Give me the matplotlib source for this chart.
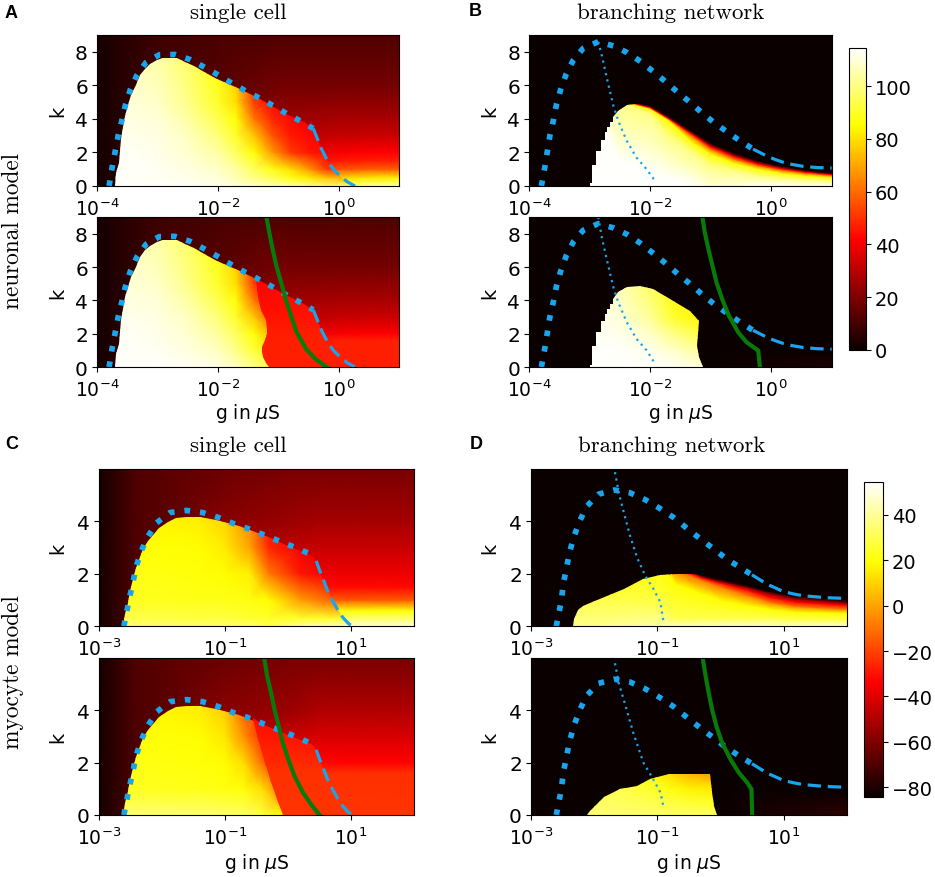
import matplotlib
matplotlib.use("Agg")
import matplotlib.pyplot as plt
import numpy as np
from matplotlib.colors import Normalize
from matplotlib.cm import ScalarMappable
from matplotlib.patches import Polygon

W, H = 935, 878
BLUE = "#18a5ee"
GREEN = "#087a08"

# ---- neuronal model, single cell (A) ----
a_out_lg = [-4, -3.6, -3, -2, -1, 0, 0.5, 1]
a_out_k = [0, 0.2, 0.5, 1, 1.5, 2, 3, 4, 6, 9]
a_out = [[2, 5, 9, 20, 60, 100, 104, 105],
         [2, 5, 9, 20, 60, 90, 94, 95],
         [2, 5, 9, 20, 55, 78, 81, 82],
         [2, 5, 9, 20, 45, 56, 58, 58],
         [2, 5, 9, 18, 38, 46, 47, 47],
         [2, 5, 9, 16, 34, 41, 42, 42],
         [2, 5, 9, 15, 30, 32, 33, 33],
         [2, 5, 9, 14, 25, 27, 27, 27],
         [2, 5, 9, 13, 18, 18, 18, 18],
         [2, 5, 9, 11, 12, 12, 12, 12]]
a_dash = [(-0.42, 3.43), (-0.36, 2.9), (-0.31, 2.4), (-0.24, 1.9), (-0.17, 1.41), (-0.08, 0.97), (0.02, 0.62),
          (0.14, 0.26), (0.27, 0)]
a_edge = [(-3.7, 0), (-3.68, 0.8), (-3.64, 1.4), (-3.62, 2.1), (-3.6, 2.8), (-3.57, 3.5), (-3.54, 4.2), (-3.49, 4.8),
          (-3.44, 5.4), (-3.36, 6), (-3.28, 6.6), (-3.2, 7), (-3.12, 7.26), (-3, 7.5), (-2.9, 7.62), (-2.78, 7.65),
          (-2.68, 7.6), (-2.55, 7.4), (-2.4, 7.16), (-2.2, 6.75), (-2.02, 6.37), (-1.63, 5.77), (-1.3, 5.18),
          (-0.91, 4.38), (-0.58, 3.79)]
a_in_lg = [-3.8, -3, -2.5, -2, -1.7, -1.4, -1.1, -0.8, -0.5, -0.2, 0.3]
a_in_k = [0, 0.5, 1, 2, 3, 4, 5, 8]
a_in = [[114, 114, 113, 112, 110, 108, 105, 103, 100, 98, 96],
        [114, 113, 112, 110, 106, 100, 95, 88, 82, 75, 70],
        [114, 113, 111, 108, 104, 96, 88, 80, 68, 52, 46],
        [114, 112, 109, 104, 96, 86, 68, 52, 46, 43, 42],
        [113, 111, 107, 99, 90, 76, 56, 46, 43, 42, 40],
        [112, 110, 104, 94, 86, 62, 48, 43, 41, 38, 36],
        [111, 108, 101, 90, 80, 52, 44, 40, 38, 36, 34],
        [108, 104, 96, 86, 75, 48, 42, 38, 36, 34, 32]]
a2_out_lg = [-4, -3.6, -3, -2, -1, 0, 0.5, 1]
a2_out_k = [0, 1.6, 2, 3, 4, 6, 9]
a2_out = [[2, 5, 9, 20, 47, 47, 47, 47],
          [2, 5, 9, 18, 40, 47, 47, 47],
          [2, 5, 9, 16, 34, 41, 42, 42],
          [2, 5, 9, 15, 30, 32, 33, 33],
          [2, 5, 9, 14, 25, 27, 27, 27],
          [2, 5, 9, 13, 18, 18, 18, 18],
          [2, 5, 9, 11, 12, 12, 12, 12]]
a2_in_lg = [-3.8, -3, -2.5, -2, -1.7, -1.4, -1.1]
a2_in_k = [0, 1, 2, 3, 4, 5, 8]
a2_in = [[114, 114, 113, 111, 107, 100, 94],
         [114, 113, 111, 107, 101, 92, 85],
         [114, 112, 109, 103, 96, 86, 72],
         [113, 111, 107, 99, 90, 76, 56],
         [112, 110, 104, 94, 86, 62, 48],
         [111, 108, 101, 90, 80, 52, 44],
         [108, 104, 96, 86, 75, 48, 42]]
a2_bound = [(-1.16, 0), (-1.2, 0.25), (-1.25, 0.6), (-1.27, 0.9), (-1.26, 1.2), (-1.22, 1.6), (-1.19, 2), (-1.18, 2.3),
            (-1.2, 2.8), (-1.28, 3.4), (-1.33, 4.2), (-1.36, 5.2), (-1.3, 5.18), (-0.91, 4.38), (-0.58, 3.79)]
a2_red_lg = [-1.5, 0.5]
a2_red_k = [0, 1.7, 3, 5.5]
a2_red_v = [[47, 47], [47, 47], [45, 45], [42, 42]]
a_dots = [(-3.8, 0), (-3.75, 1.11), (-3.7, 2.04), (-3.65, 3), (-3.59, 3.89), (-3.53, 4.82), (-3.45, 5.73),
          (-3.34, 6.6), (-3.19, 7.36), (-2.97, 7.82), (-2.71, 7.84), (-2.46, 7.54), (-2.23, 7.1), (-2, 6.63),
          (-1.77, 6.13), (-1.54, 5.67), (-1.31, 5.24), (-1.08, 4.78), (-0.85, 4.29), (-0.62, 3.85), (-0.42, 3.43)]
a_green = [(-1.19, 8.93), (-1.146, 8.04), (-1.09, 7.04), (-1.03, 6.05), (-0.95, 5.06), (-0.876, 4.07), (-0.788, 3.08),
           (-0.694, 2.08), (-0.54, 1.09), (-0.39, 0.5), (-0.2, 0)]

# ---- neuronal model, branching network (B) ----
b_dome = [(-3, 0), (-3, 0.15), (-2.97, 0.15), (-2.97, 1.27), (-2.9, 1.27), (-2.9, 2.1), (-2.82, 2.1), (-2.82, 2.76),
          (-2.75, 2.76), (-2.75, 3.2), (-2.71, 3.2), (-2.71, 3.5), (-2.66, 3.5), (-2.66, 3.8), (-2.61, 3.8), (-2.61, 4.1),
          (-2.53, 4.5), (-2.39, 4.82), (-2.17, 4.88), (-1.95, 4.68), (-1.68, 4.09), (-1.34, 3.3), (-0.96, 2.5),
          (-0.57, 1.9), (-0.13, 1.41), (0.42, 1.01), (1, 0.77), (1, 0)]
b_lg = [-3.1, -2.5, -2, -1.7, -1.3, -1, -0.6, -0.2, 0.2, 0.6, 1.05]
b_levels = [114.5, 114, 100, 85, 60, 42, 20, 0]
b_iso = [[-1, -1, -1, -1, -1, -1, -1, -1, -1, -1, -1],
         [5, 1.5, 1, 0.5, 0, -0.5, -0.3, 0, 0, 0, 0],
         [9, 5, 4.3, 3, 2, 1.2, 0.9, 0.6, 0.45, 0.35, 0.3],
         [9.2, 5.1, 4.6, 3.9, 2.6, 1.9, 1.35, 1, 0.75, 0.6, 0.5],
         [9.4, 5.12, 4.65, 4, 2.95, 2.2, 1.6, 1.2, 0.93, 0.75, 0.62],
         [9.6, 5.14, 4.7, 4.05, 3.08, 2.35, 1.75, 1.3, 1.02, 0.82, 0.68],
         [9.8, 5.16, 4.73, 4.1, 3.15, 2.45, 1.85, 1.4, 1.1, 0.88, 0.72],
         [10, 5.2, 4.78, 4.15, 3.3, 2.55, 1.95, 1.47, 1.15, 0.93, 0.77]]
b2_dome = b_dome[:21] + [(-1.34, 3.37), (-1.19, 2.78), (-1.23, 1.29), (-1.2, 0.6), (-1.13, 0)]
b2_lg = [-3.1, -2.5, -2, -1.6, -1.1]
b2_k = [0, 1, 2, 3, 5]
b2_v = [[114, 114, 114, 113, 110],
        [114, 114, 112, 108, 102],
        [114, 112, 108, 100, 92],
        [114, 110, 102, 90, 84],
        [112, 106, 96, 86, 80]]
b2_out_lg = [-4, -1.1, 1]
b2_out_k = [0, 0.5, 0.9, 9]
b2_out = [[0, 0, 3], [0, 0, 2.5], [0, 0, 0], [0, 0, 0]]
b_dots = [(-3.8, 0), (-3.74, 1.2), (-3.7, 2.1), (-3.66, 3), (-3.6, 3.95), (-3.55, 4.88), (-3.48, 5.77), (-3.39, 6.67),
          (-3.27, 7.52), (-3.11, 8.2), (-2.86, 8.6), (-2.61, 8.35), (-2.38, 7.95), (-2.16, 7.42), (-1.95, 6.82),
          (-1.75, 6.23), (-1.55, 5.6), (-1.34, 4.98), (-1.15, 4.38), (-0.95, 3.79), (-0.74, 3.25), (-0.52, 2.7), (-0.3, 2.2)]
b_dash = [(-0.3, 2.2), (-0.08, 1.8), (0.05, 1.6), (0.2, 1.41), (0.35, 1.28), (0.53, 1.17), (0.75, 1.1), (1, 1.07)]
b_thin = [(-2.86, 8.6), (-2.8, 7.76), (-2.72, 6.47), (-2.61, 4.78), (-2.53, 3.89), (-2.39, 2.7), (-2.23, 1.7),
          (-2.06, 1), (-1.94, 0.4)]
b2_thin = [(-2.86, 9), (-2.8, 7.76), (-2.72, 6.47), (-2.61, 4.78), (-2.53, 3.89), (-2.39, 2.7), (-2.23, 1.7),
           (-2.06, 1), (-1.93, 0.25)]
b_green = [(-1.135, 8.93), (-1.097, 8.04), (-1.036, 7.04), (-0.97, 6.05), (-0.904, 5.06), (-0.81, 4.07), (-0.7, 3.08),
           (-0.545, 2.08), (-0.408, 1.49), (-0.215, 0.99), (-0.187, 0)]

# ---- myocyte model, single cell (C) ----
c_out_lg = [-3, -2.7, -2.4, -2, -1, 0, 0.5, 1, 2]
c_out_k = [0, 0.3, 0.6, 1, 1.5, 2, 3, 4, 6]
c_out = [[-82, -76, -70, -68, -30, 30, 47, 48, 48],
         [-82, -76, -70, -68, -34, 20, 33, 34, 34],
         [-82, -76, -70, -68, -38, 5, 18, 20, 20],
         [-82, -76, -70, -68, -45, -20, -15, -15, -15],
         [-82, -76, -70, -68, -48, -30, -32, -32, -32],
         [-82, -76, -70, -68, -52, -37, -37, -37, -37],
         [-82, -76, -70, -68, -55, -47, -45, -45, -45],
         [-82, -76, -70, -68, -58, -54, -52, -52, -52],
         [-82, -76, -70, -68, -64, -61, -61, -61, -61]]
c_dash = [(0.45, 2.49), (0.5, 2.15), (0.56, 1.8), (0.63, 1.35), (0.71, 0.97), (0.79, 0.63), (0.87, 0.34), (0.95, 0.13), (1.02, 0)]
c_edge = [(-2.61, 0), (-2.58, 0.45), (-2.54, 0.9), (-2.5, 1.35), (-2.46, 1.8), (-2.41, 2.22), (-2.35, 2.62), (-2.29, 2.95),
          (-2.22, 3.25), (-2.13, 3.52), (-2.04, 3.76), (-1.9, 3.97), (-1.77, 4.14), (-1.6, 4.18), (-1.4, 4.18), (-1.14, 4.05),
          (-0.77, 3.82), (-0.34, 3.42), (0.08, 3), (0.4, 2.68)]
c_in_lg = [-2.6, -1.4, -1, -0.6, -0.3, 0.2, 0.7, 1.1]
c_in_k = [0, 0.3, 1, 2, 3, 4.2]
c_in = [[34, 34, 34, 34, 30, 40, 45, 47],
        [30, 28, 28, 26, 25, 25, 25, 25],
        [24, 22, 22, 21, 19, -1, -13, -15],
        [22, 20, 19, 16, -8, -29, -35, -37],
        [20, 19, 15, 0, -26, -35, -40, -42],
        [19, 15, 10, -6, -30, -40, -45, -48]]
c2_out_lg = [-3, -2.7, -2.4, -2, -1, 0, 0.5, 1, 2]
c2_out_k = [0, 1.6, 2, 3, 4, 6]
c2_out = [[-82, -76, -70, -68, -45, -23, -23, -23, -23],
          [-82, -76, -70, -68, -48, -24, -24, -24, -24],
          [-82, -76, -70, -68, -52, -33, -33, -33, -33],
          [-82, -76, -70, -68, -55, -45, -42, -42, -42],
          [-82, -76, -70, -68, -58, -54, -50, -50, -50],
          [-82, -76, -70, -68, -64, -61, -61, -61, -61]]
c2_in_lg = [-2.6, -1.4, -1, -0.7, -0.4, -0.05]
c2_in_k = [0, 1, 2, 3, 4.2]
c2_in = [[34, 34, 33, 32, 28, 18],
         [24, 22, 21, 20, 12, -14],
         [22, 20, 19, 12, -12, -24],
         [20, 19, 14, -4, -24, -26],
         [19, 15, 8, -14, -28, -30]]
c2_bound = [(-0.08, 0), (-0.16, 0.48), (-0.26, 1.25), (-0.37, 2), (-0.48, 2.9), (-0.53, 3.5), (-0.55, 3.72), (-0.34, 3.42),
            (0.08, 3), (0.4, 2.68)]
c2_red_lg = [-0.7, 1.2]
c2_red_k = [0, 1.7, 3, 4]
c2_red_v = [[-23, -23], [-24, -24], [-28, -32], [-32, -36]]
c_dots = [(-2.6, 0), (-2.52, 1), (-2.46, 1.63), (-2.41, 2.24), (-2.33, 2.84), (-2.22, 3.42), (-2.08, 3.94), (-1.87, 4.33),
          (-1.61, 4.41), (-1.35, 4.33), (-1.1, 4.14), (-0.86, 3.91), (-0.61, 3.7), (-0.37, 3.47), (-0.12, 3.23), (0.12, 3), (0.37, 2.73)]
c_green = [(-0.37, 5.92), (-0.328, 5.29), (-0.265, 4.66), (-0.212, 4.03), (-0.144, 3.39), (-0.08, 2.76), (0.005, 2.13),
           (0.105, 1.49), (0.238, 0.86), (0.386, 0.35), (0.503, 0)]

# ---- myocyte model, branching network (D) ----
d_dome = [(-2.34, 0), (-2.32, 0.28), (-2.25, 0.62), (-2.17, 0.78), (-2.06, 0.89), (-1.8, 1.16), (-1.53, 1.42), (-1.22, 1.8), (-0.95, 1.96),
          (-0.69, 2.01), (-0.48, 1.99), (-0.21, 1.92), (0.05, 1.77), (0.37, 1.57), (0.69, 1.35), (1.11, 1.16), (1.64, 1.04), (2, 1.01), (2, 0)]
d_lg = [-2.4, -1.5, -1, -0.7, -0.3, 0, 0.4, 0.8, 1.2, 2]
d_levels = [54, 45, 30, 19, -8, -33, -60, -84]
d_iso = [[-2, -2, -2, -2, -2, -2, -2, -2, -2, -2],
         [-1, -0.5, -0.2, 0, 0.03, 0.05, 0.05, 0.05, 0.05, 0.05],
         [1, 0.9, 0.8, 0.3, 0.3, 0.3, 0.3, 0.3, 0.25, 0.25],
         [2, 2.1, 2.4, 1.6, 1.25, 1, 0.8, 0.65, 0.55, 0.5],
         [3, 3.1, 3.2, 2.1, 1.75, 1.5, 1.2, 0.9, 0.75, 0.65],
         [4, 4.1, 4.2, 2.3, 1.85, 1.65, 1.4, 1.1, 0.92, 0.8],
         [5, 5.1, 5.2, 2.4, 1.9, 1.72, 1.5, 1.25, 1.05, 0.9],
         [6, 6.1, 6.2, 2.5, 1.94, 1.78, 1.57, 1.33, 1.15, 1]]
d2_dome = [(-2.12, 0), (-2.07, 0.16), (-1.96, 0.42), (-1.85, 0.67), (-1.59, 0.99), (-1.32, 1.11), (-1.11, 1.37), (-0.82, 1.56),
           (-0.17, 1.58), (-0.13, 0.86), (-0.1, 0.35), (-0.05, 0)]
d2_lg = [-2.2, -1.6, -1.1, -0.8, -0.5, -0.05]
d2_k = [0, 0.5, 1, 1.6]
d2_v = [[34, 34, 33, 32, 32, 32],
        [33, 32, 30, 28, 26, 24],
        [31, 30, 25, 21, 17, 15],
        [29, 27, 20, 12, 4, -2]]
d2_out_lg = [-3, -0.1, 2]
d2_out_k = [0, 0.5, 0.9, 6]
d2_out = [[-84.3, -84.3, -77], [-84.3, -84.3, -80], [-84.3, -84.3, -84.3], [-84.3, -84.3, -84.3]]
d_dots = [(-2.6, 0), (-2.52, 0.97), (-2.49, 1.6), (-2.44, 2.2), (-2.39, 2.81), (-2.32, 3.42), (-2.23, 4), (-2.12, 4.56), (-1.93, 5.03),
          (-1.68, 5.19), (-1.43, 5.08), (-1.19, 4.82), (-0.96, 4.49), (-0.74, 4.14), (-0.54, 3.75), (-0.33, 3.35), (-0.12, 2.97),
          (0.09, 2.58), (0.31, 2.24), (0.5, 1.96)]
d_dash = [(0.5, 1.96), (0.74, 1.6), (0.88, 1.45), (1, 1.32), (1.16, 1.23), (1.32, 1.16), (1.67, 1.09), (2, 1.06)]
d_thin = [(-1.67, 5.87), (-1.61, 5.09), (-1.53, 4.33), (-1.43, 3.44), (-1.32, 2.62), (-1.19, 1.92), (-1.06, 1.42), (-0.95, 0.91), (-0.9, 0.15)]
d2_thin = [(-1.67, 5.8), (-1.61, 5.04), (-1.5, 4.15), (-1.38, 3.14), (-1.22, 2), (-1.08, 1.43), (-0.95, 0.86), (-0.9, 0.29)]
d_green = [(-0.275, 5.92), (-0.233, 5.29), (-0.185, 4.66), (-0.132, 4.03), (-0.063, 3.39), (0.026, 2.76), (0.159, 2.13),
           (0.291, 1.62), (0.423, 1.24), (0.492, 0.99), (0.503, 0)]

norm_n = Normalize(0, 114.5)
norm_m = Normalize(-84.3, 54.5)
fig = plt.figure(figsize=(W / 100, H / 100), dpi=100)
bottom_black = plt.get_cmap("hot")(0.0)


def px_axes(left, top, right, bottom):
    return fig.add_axes([left / W, 1 - bottom / H, (right - left) / W, (bottom - top) / H])


def setup(ax, xlim, ylim, xticks, yticks):
    ax.set_xscale("log")
    ax.set_xlim(xlim)
    ax.set_ylim(ylim)
    ax.set_xticks(xticks)
    ax.minorticks_off()
    ax.set_yticks(yticks)
    ax.tick_params(axis="x", labelsize=13.5, pad=4.5)
    ax.tick_params(axis="y", labelsize=14.5, pad=3)
    ax.set_ylabel("k", fontsize=14)
    ax.yaxis.set_label_coords(-0.1, 0.5)


def field(ax, lg, ks, vals, norm, clip=None):
    x = 10.0 ** np.array(lg)
    ks = np.array(ks, dtype=float)
    v = np.array(vals, dtype=float)
    if ks.ndim == 1:
        mesh = ax.pcolormesh(x, ks, v, shading="gouraud", cmap="hot", norm=norm)
    else:
        # rows follow a colour level, so k is given per column
        mesh = ax.pcolormesh(np.tile(x, (ks.shape[0], 1)), ks, np.tile(v[:, None], (1, len(lg))),
                             shading="gouraud", cmap="hot", norm=norm)
    if clip is not None:
        pts = np.array(clip, dtype=float)
        pts[:, 0] = 10.0 ** pts[:, 0]
        mesh.set_clip_path(Polygon(pts, transform=ax.transData))
    return mesh


def curve(ax, pts, **kw):
    p = np.array(pts, dtype=float)
    ax.plot(10.0 ** p[:, 0], p[:, 1], **kw)


def blue(ax, dots, dash, thin=None):
    curve(ax, dots, color=BLUE, lw=4.1, ls=(0, (1, 1.75)), dash_capstyle="butt")
    curve(ax, dash, color=BLUE, lw=2.3, ls=(0, (4.2, 2.1)), dash_capstyle="butt")
    if thin is not None:
        curve(ax, thin, color=BLUE, lw=1.6, ls=(0, (1, 1.9)))


def label(x, y, s, **kw):
    fig.text(x / W, 1 - y / H, s, ha="center", va="center", **kw)


xt_n = [1e-4, 1e-2, 1e0]
yt_n = [0, 2, 4, 6, 8]
xt_m = [1e-3, 1e-1, 1e1]
yt_m = [0, 2, 4]
xl_n = (1e-4, 1e1)
xl_m = (1e-3, 1e2)

# A
a_dome = a_edge + a_dash
ax = px_axes(97, 36, 399, 187)
field(ax, a_out_lg, a_out_k, a_out, norm_n)
field(ax, a_in_lg, a_in_k, a_in, norm_n, a_dome)
blue(ax, a_dots, a_dash)
setup(ax, xl_n, (0, 9), xt_n, yt_n)

ax = px_axes(97, 218, 399, 368)
field(ax, a2_out_lg, a2_out_k, a2_out, norm_n)
field(ax, a2_in_lg, a2_in_k, a2_in, norm_n, a_dome)
field(ax, a2_red_lg, a2_red_k, a2_red_v, norm_n, a2_bound + a_dash)
blue(ax, a_dots, a_dash)
curve(ax, a_green, color=GREEN, lw=3)
setup(ax, xl_n, (0, 9), xt_n, yt_n)

# B
ax = px_axes(529.3, 36, 831.7, 187)
ax.set_facecolor(bottom_black)
field(ax, b_lg, b_iso, b_levels, norm_n, b_dome)
blue(ax, b_dots, b_dash, b_thin)
setup(ax, xl_n, (0, 9), xt_n, yt_n)

ax = px_axes(529.3, 218, 831.7, 368)
ax.set_facecolor(bottom_black)
field(ax, b2_out_lg, b2_out_k, b2_out, norm_n)
field(ax, b2_lg, b2_k, b2_v, norm_n, b2_dome)
blue(ax, b_dots, b_dash, b2_thin)
curve(ax, b_green, color=GREEN, lw=3)
setup(ax, xl_n, (0, 9), xt_n, yt_n)

# C
c_dome = c_edge + c_dash
ax = px_axes(98.7, 469.7, 414, 627.3)
field(ax, c_out_lg, c_out_k, c_out, norm_m)
field(ax, c_in_lg, c_in_k, c_in, norm_m, c_dome)
blue(ax, c_dots, c_dash)
setup(ax, xl_m, (0, 6), xt_m, yt_m)

ax = px_axes(98.7, 659, 414, 816)
field(ax, c2_out_lg, c2_out_k, c2_out, norm_m)
field(ax, c2_in_lg, c2_in_k, c2_in, norm_m, c_dome)
field(ax, c2_red_lg, c2_red_k, c2_red_v, norm_m, c2_bound + c_dash)
blue(ax, c_dots, c_dash)
curve(ax, c_green, color=GREEN, lw=3)
setup(ax, xl_m, (0, 6), xt_m, yt_m)

# D
ax = px_axes(531, 469.7, 846.7, 627.3)
ax.set_facecolor(bottom_black)
field(ax, d_lg, d_iso, d_levels, norm_m, d_dome)
blue(ax, d_dots, d_dash, d_thin)
setup(ax, xl_m, (0, 6), xt_m, yt_m)

ax = px_axes(531, 659, 846.7, 816)
ax.set_facecolor(bottom_black)
field(ax, d2_out_lg, d2_out_k, d2_out, norm_m)
field(ax, d2_lg, d2_k, d2_v, norm_m, d2_dome)
blue(ax, d_dots, d_dash, d2_thin)
curve(ax, d_green, color=GREEN, lw=3)
setup(ax, xl_m, (0, 6), xt_m, yt_m)

# colorbars
cax = px_axes(849, 49, 866, 351)
fig.colorbar(ScalarMappable(norm_n, "hot"), cax=cax, ticks=[0, 20, 40, 60, 80, 100])
cax.tick_params(labelsize=14, pad=3)
cax = px_axes(864.3, 483, 882.7, 798)
fig.colorbar(ScalarMappable(norm_m, "hot"), cax=cax, ticks=[-80, -60, -40, -20, 0, 20, 40])
cax.tick_params(labelsize=14, pad=3)

# text
for x, y, s in [(238, 13, "single cell"), (670.7, 13, "branching network"),
                (238, 446, "single cell"), (672, 446, "branching network")]:
    label(x, y, s, family="cmr10", fontsize=16.5)
label(13, 231, "neuronal model", family="cmr10", fontsize=16.8, rotation=90)
label(13, 672, "myocyte model", family="cmr10", fontsize=16.8, rotation=90)
for x, y in [(248, 414), (680.7, 414), (257, 864), (689, 864)]:
    label(x, y, r"g in $\mu$S", fontsize=13.5)
for x, y, s in [(11, 13, "A"), (475, 12, "B"), (12, 445, "C"), (476, 445, "D")]:
    label(x, y, s, family="Liberation Sans", fontweight="bold", fontsize=13)

fig.savefig("out.png", dpi=100)
